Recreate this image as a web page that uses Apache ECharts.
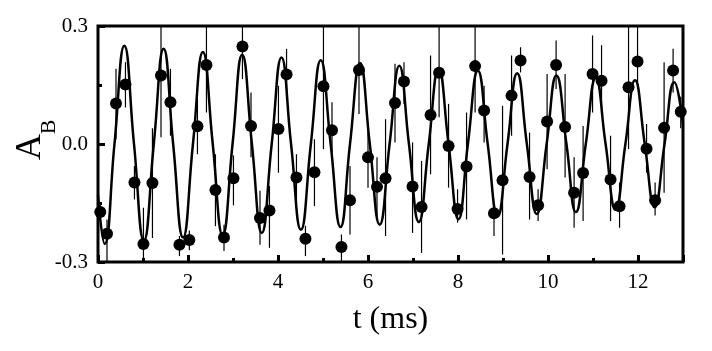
<!DOCTYPE html>
<html>
<head>
<meta charset="utf-8">
<script src="https://cdn.jsdelivr.net/npm/echarts@6/dist/echarts.min.js"></script>
<style>
html,body{margin:0;padding:0;background:#fff;}
#chart{width:712px;height:351px;}
</style>
</head>
<body>
<div id="chart"></div>
<script>
// Measured points (t in ms, A_B) with error bar limits
const tPoints = [0.05,0.2,0.4,0.61,0.81,1.01,1.21,1.4,1.61,1.81,2.03,
  2.21,2.41,2.61,2.8,3.01,3.21,3.4,3.6,3.81,4.01,4.19,
  4.41,4.61,4.81,5.01,5.2,5.41,5.6,5.8,6.0,6.2,6.39,
  6.6,6.8,6.99,7.19,7.39,7.58,7.79,7.99,8.19,8.38,8.58,
  8.8,8.99,9.19,9.39,9.59,9.78,9.98,10.18,10.38,10.58,10.78,
  10.99,11.19,11.39,11.59,11.79,11.99,12.19,12.38,12.58,12.78,12.95];
const aPoints = [-0.173,-0.228,0.103,0.151,-0.098,-0.254,-0.099,0.174,0.106,-0.256,-0.244,
  0.045,0.201,-0.117,-0.238,-0.087,0.248,0.046,-0.188,-0.169,0.038,0.177,
  -0.085,-0.241,-0.072,0.147,0.035,-0.262,-0.143,0.188,-0.034,-0.109,-0.087,
  0.104,0.159,-0.108,-0.160,0.074,0.181,-0.005,-0.165,-0.057,0.198,0.085,
  -0.176,-0.092,0.123,0.212,-0.084,-0.156,0.057,0.201,0.043,-0.124,-0.074,
  0.178,0.161,-0.090,-0.158,0.144,0.210,-0.012,-0.143,0.041,0.187,0.082];
const errLow = [-0.19,-0.32,0.012,0.093,-0.141,-0.297,-0.239,0.017,0.021,-0.285,-0.27,
  -0.026,0.080,-0.209,-0.272,-0.156,0.165,-0.034,-0.256,-0.264,-0.073,0.114,
  -0.149,-0.285,-0.158,-0.013,-0.034,-0.297,-0.230,0.076,-0.111,-0.183,-0.234,
  0.004,0.102,-0.226,-0.277,-0.077,0.068,-0.111,-0.200,-0.192,0.080,0.004,
  -0.234,-0.281,0.021,0.182,-0.192,-0.196,-0.064,0.140,-0.085,-0.213,-0.196,
  0.080,0.076,-0.196,-0.213,-0.013,0.140,-0.073,-0.182,-0.124,0.131,0.04];
const errHigh = [-0.155,-0.192,0.191,0.208,-0.056,-0.162,0.040,0.32,0.191,-0.234,-0.22,
  0.114,0.32,-0.026,-0.205,-0.029,0.32,0.131,-0.119,-0.107,0.148,0.242,
  -0.026,-0.208,0.012,0.32,0.106,-0.230,-0.056,0.32,0.046,-0.034,0.063,
  0.204,0.208,0.004,-0.043,0.225,0.32,0.102,-0.115,0.080,0.32,0.148,
  -0.154,0.097,0.225,0.246,0.029,-0.115,0.178,0.263,0.178,-0.034,0.046,
  0.276,0.251,0.021,-0.098,0.32,0.32,0.051,-0.098,0.208,0.242,0.12];

// Fit curve: extrema and zero crossings
const fitT = [0,0.148,0.366,0.585,0.80,1.02,1.24,1.458,1.67,1.89,2.11,2.331,2.55,2.77,2.99,3.204,3.42,3.64,3.86,4.077,4.29,4.51,4.73,4.95,5.17,5.39,5.60,5.823,6.04,6.26,6.48,6.696,6.91,7.13,7.35,7.569,7.79,8.01,8.22,8.442,8.66,8.88,9.10,9.315,9.53,9.75,9.97,10.188,10.41,10.62,10.84,11.061,11.28,11.50,11.72,11.934,12.15,12.37,12.59,12.807,13.0];
const fitA = [-0.13,-0.254,0,0.250,0,-0.246,0,0.242,0,-0.238,0,0.234,0,-0.232,0,0.227,0,-0.226,0,0.220,0,-0.218,0,0.213,0,-0.211,0,0.206,0,-0.205,0,0.199,0,-0.198,0,0.192,0,-0.191,0,0.186,0,-0.184,0,0.180,0,-0.178,0,0.174,0,-0.173,0,0.168,0,-0.167,0,0.162,0,-0.161,0,0.157,0.05];

const xTicks = {min:0, max:13, interval:2};
const yTicks = {min:-0.3, max:0.3, interval:0.3};

const FONT = '"Liberation Serif", "Times New Roman", serif';
const chart = echarts.init(document.getElementById('chart'), null, {renderer:'canvas'});

const scatterData = tPoints.map((t,i)=>[t, aPoints[i]]);
const errData = tPoints.map((t,i)=>[t, errLow[i], errHigh[i]]);
const fitData = fitT.map((t,i)=>[t, fitA[i]]);

chart.setOption({
  animation:false,
  backgroundColor:'#fff',
  grid:{left:98,right:29,top:26,bottom:89,show:true,borderColor:'#000',borderWidth:3,backgroundColor:'transparent'},
  xAxis:{type:'value',min:xTicks.min,max:xTicks.max,interval:xTicks.interval,
    axisLine:{show:false,onZero:false},
    axisTick:{show:true,inside:true,length:7,lineStyle:{color:'#000',width:3}},
    minorTick:{show:true,splitNumber:2,length:4,lineStyle:{color:'#000',width:3}},
    splitLine:{show:false},
    axisLabel:{color:'#000',fontFamily:FONT,fontSize:21,margin:10,showMaxLabel:false},
    name:'t (ms)',nameLocation:'middle',nameGap:42,
    nameTextStyle:{color:'#000',fontFamily:FONT,fontSize:32}
  },
  yAxis:{type:'value',min:yTicks.min,max:yTicks.max,interval:yTicks.interval,
    axisLine:{show:false,onZero:false},
    axisTick:{show:true,inside:true,length:7,lineStyle:{color:'#000',width:3}},
    minorTick:{show:true,splitNumber:2,length:4,lineStyle:{color:'#000',width:3}},
    splitLine:{show:false},
    axisLabel:{color:'#000',fontFamily:FONT,fontSize:21,margin:10,formatter:v=>v.toFixed(1)}
  },
  graphic:[
    {type:'text',x:31,y:147,rotation:Math.PI/2,style:{text:'A',font:'36px '+FONT,fill:'#000',textAlign:'center',textVerticalAlign:'middle'}},
    {type:'text',x:49,y:127,rotation:Math.PI/2,style:{text:'B',font:'22px '+FONT,fill:'#000',textAlign:'center',textVerticalAlign:'middle'}}
  ],
  series:[
    {type:'line',data:fitData,smooth:0.5,symbol:'none',lineStyle:{color:'#000',width:2.5},z:2},
    {type:'custom',data:errData,encode:{x:0,y:[1,2]},z:3,
      renderItem:function(params,api){
        const t=api.value(0);
        const lo=Math.max(api.value(1),yTicks.min), hi=Math.min(api.value(2),yTicks.max);
        const p1=api.coord([t,lo]), p2=api.coord([t,hi]);
        return {type:'line',shape:{x1:p1[0],y1:p1[1],x2:p2[0],y2:p2[1]},style:{stroke:'#000',lineWidth:1.2}};
      }},
    {type:'scatter',data:scatterData,symbol:'circle',symbolSize:12,itemStyle:{color:'#000',opacity:1},z:4}
  ]
});
</script>
</body>
</html>
